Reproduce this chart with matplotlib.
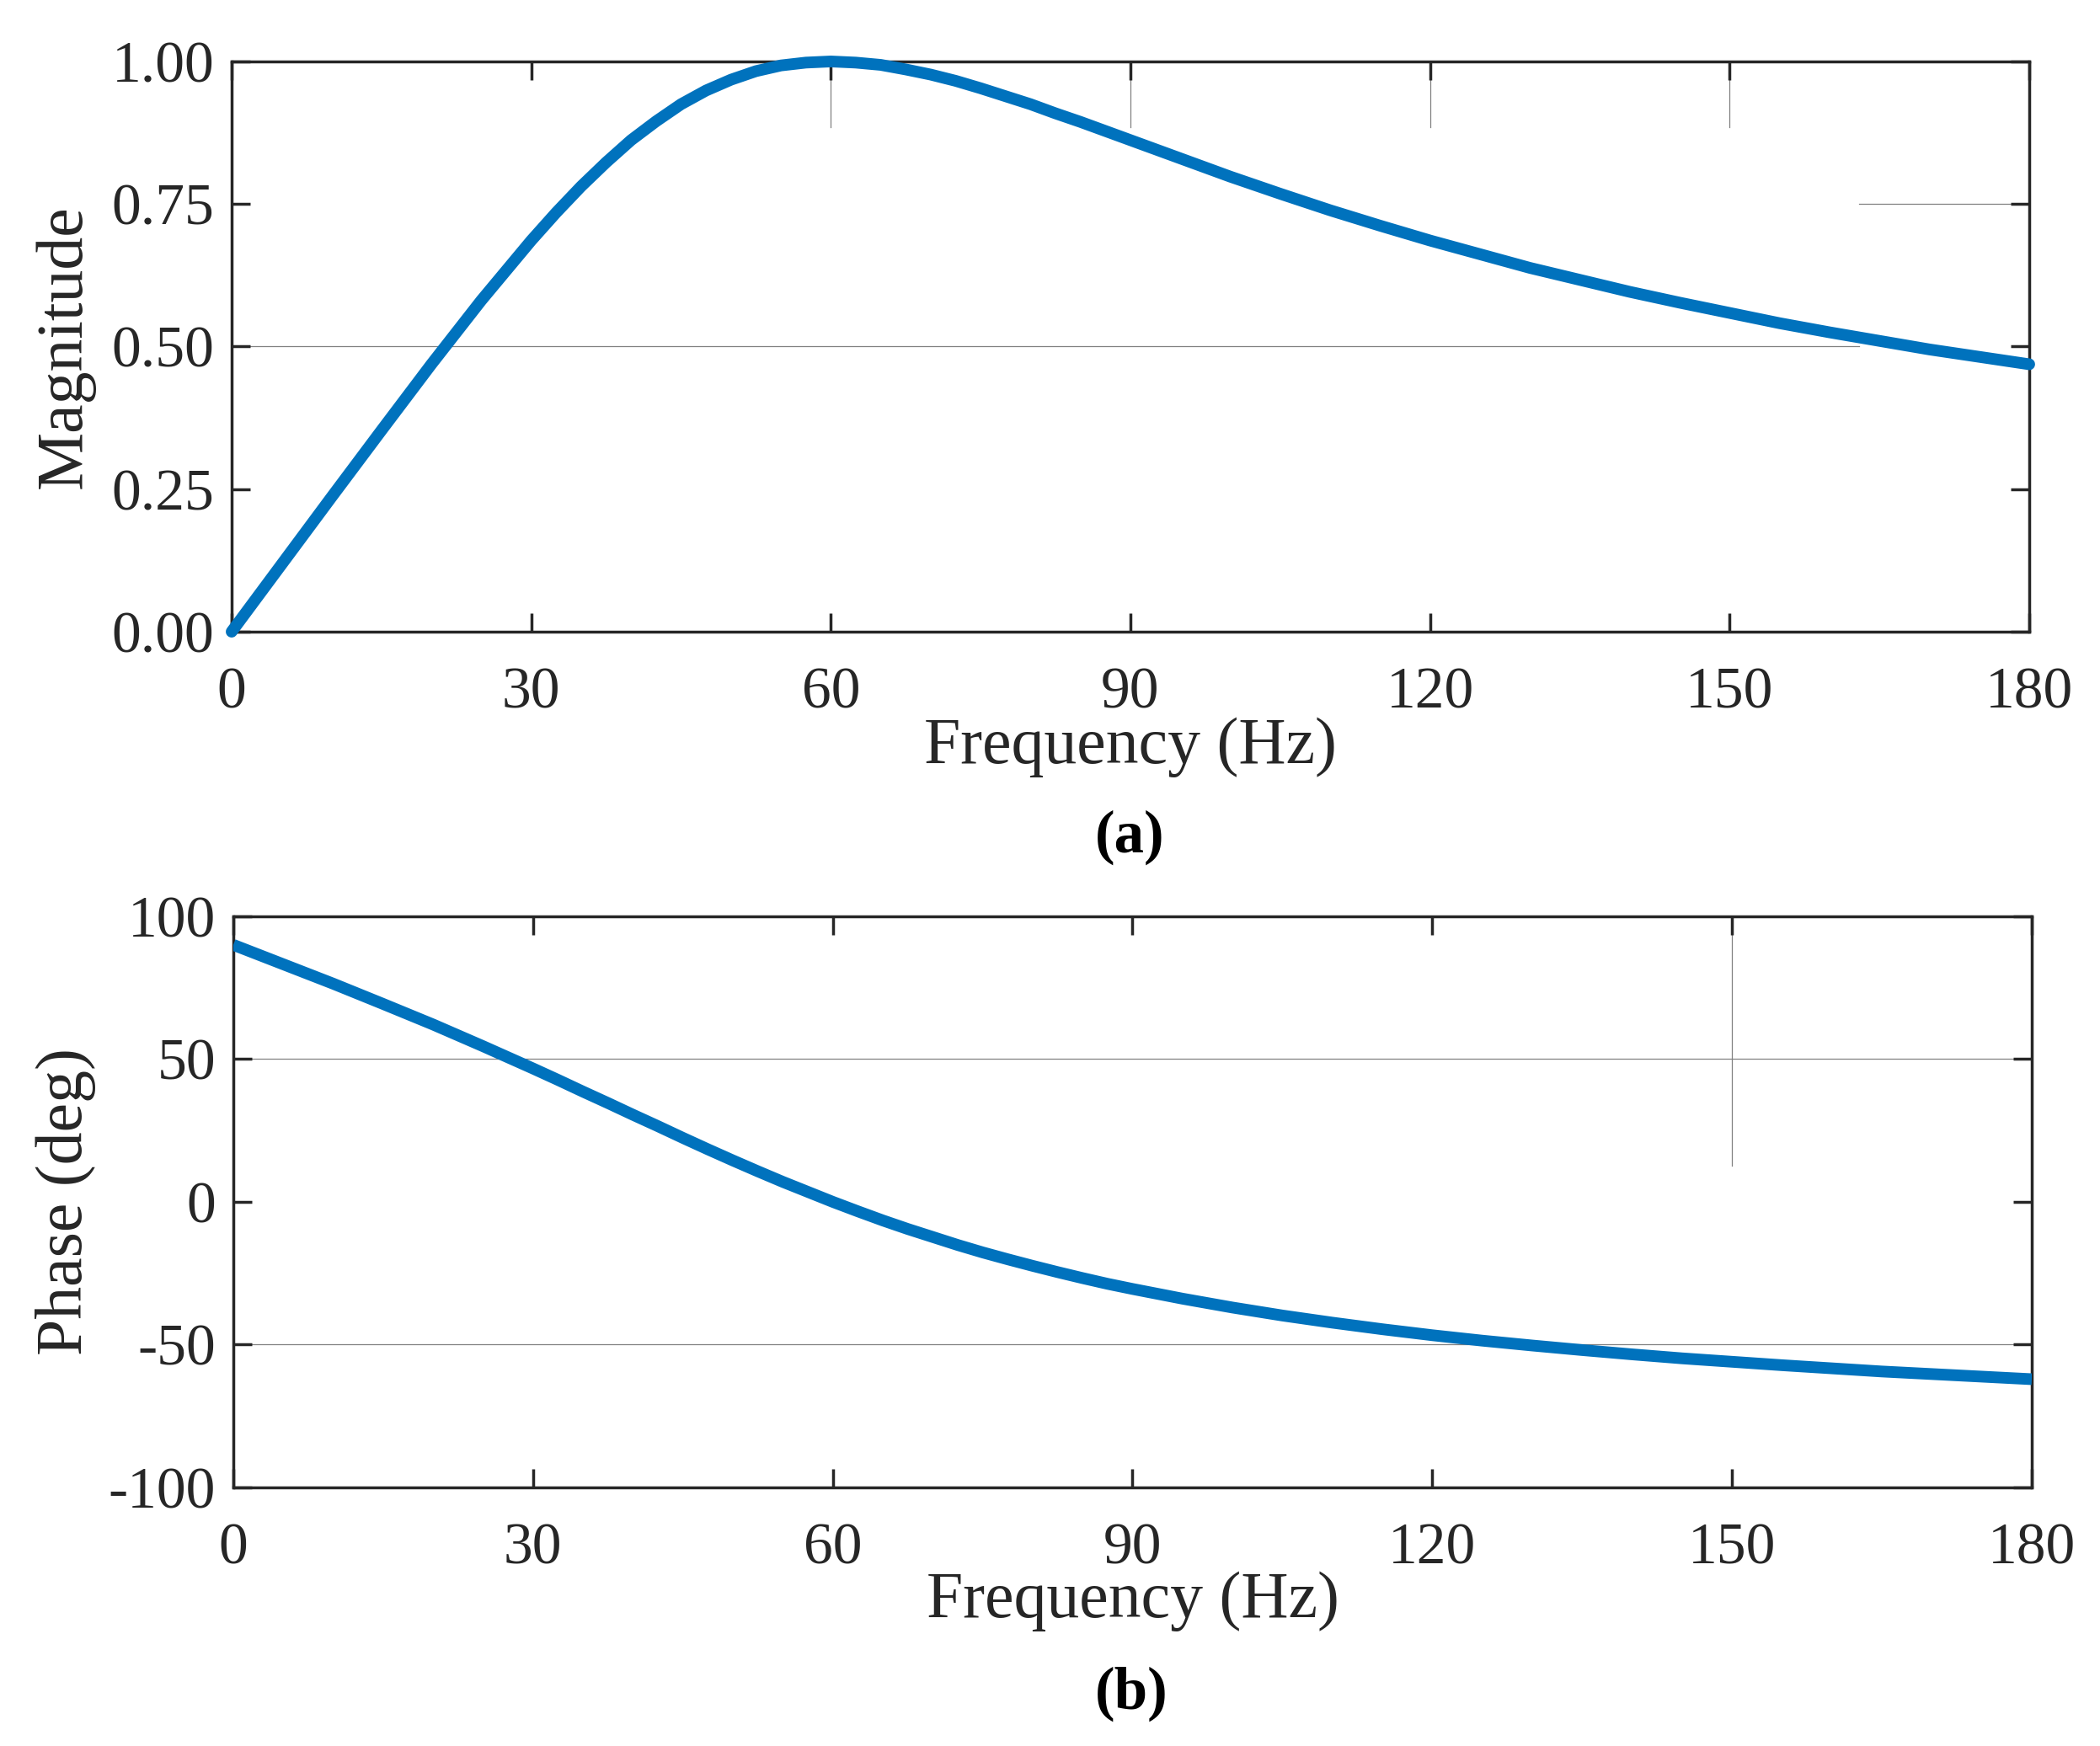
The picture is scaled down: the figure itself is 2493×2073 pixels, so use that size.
import matplotlib
matplotlib.use("Agg")
import matplotlib.pyplot as plt
from matplotlib.ticker import FormatStrFormatter

plt.rcParams['font.family'] = ['Liberation Serif', 'DejaVu Serif']
plt.rcParams['axes.unicode_minus'] = False

# values (5 Hz steps, 2.5 Hz around the peak)
freq = [0, 5, 10, 15, 20, 25, 30, 32.5, 35, 37.5, 40, 42.5, 45, 47.5, 50, 52.5, 55,
        57.5, 60, 62.5, 65, 67.5, 70, 72.5, 75, 77.5, 80, 82.5, 85, 87.5, 90,
        95, 100, 105, 110, 115, 120, 125, 130, 135, 140, 145, 150, 155, 160, 165,
        170, 175, 180]
magnitude = [0.000, 0.118, 0.236, 0.353, 0.469, 0.581, 0.686, 0.735, 0.781, 0.823,
             0.862, 0.895, 0.925, 0.949, 0.968, 0.983, 0.993, 0.998, 1.000, 0.998,
             0.994, 0.986, 0.977, 0.966, 0.953, 0.939, 0.925, 0.909, 0.894, 0.878,
             0.862, 0.830, 0.798, 0.768, 0.739, 0.712, 0.686, 0.662, 0.638, 0.617,
             0.596, 0.577, 0.559, 0.541, 0.525, 0.510, 0.495, 0.482, 0.469]
phase = [90.0, 83.2, 76.4, 69.3, 62.1, 54.5, 46.7, 42.7, 38.6, 34.6, 30.5, 26.5,
         22.4, 18.4, 14.5, 10.7, 7.0, 3.5, 0.0, -3.3, -6.5, -9.5, -12.3, -15.1,
         -17.7, -20.1, -22.4, -24.6, -26.7, -28.7, -30.5, -33.9, -37.0, -39.8,
         -42.3, -44.6, -46.7, -48.6, -50.3, -51.9, -53.4, -54.8, -56.0, -57.2,
         -58.3, -59.4, -60.3, -61.2, -62.1]

xticks = [0, 30, 60, 90, 120, 150, 180]
mag_ticks = [0.0, 0.25, 0.5, 0.75, 1.0]
phase_ticks = [-100, -50, 0, 50, 100]

# broken grid pieces visible in the original export
mag_grid = [([0, 163], [0.5, 0.5]), ([163, 180], [0.75, 0.75]),
            ([60, 60], [1.0, 0.885]), ([90, 90], [1.0, 0.885]),
            ([120, 120], [1.0, 0.885]), ([150, 150], [1.0, 0.885])]
phase_grid = [([0, 180], [50, 50]), ([0, 180], [-50, -50]), ([150, 150], [94, 12.7])]

blue = '#0072BD'
dark = '#262626'

fig = plt.figure(figsize=(24.93, 20.73), dpi=100)
ax1 = fig.add_axes([0.1103, 0.6382, 0.856, 0.3266])
ax2 = fig.add_axes([0.1111, 0.1481, 0.8564, 0.3271])


def style(ax, yticks, ylabel, xlab_y):
    ax.set_xlim(0, 180)
    ax.set_xticks(xticks)
    ax.set_yticks(yticks)
    ax.set_ylim(yticks[0], yticks[-1])
    ax.tick_params(direction='in', length=16, width=2.5, labelsize=50,
                   top=True, right=True, color=dark, labelcolor=dark)
    ax.tick_params(axis='x', pad=30)
    ax.tick_params(axis='y', pad=15)
    for s in ax.spines.values():
        s.set_linewidth(2.5)
        s.set_color(dark)
    ax.set_xlabel('Frequency (Hz)', fontsize=56, color=dark)
    ax.xaxis.label.set_va('center')
    ax.xaxis.set_label_coords(0.5, xlab_y)
    ax.set_ylabel(ylabel, fontsize=56, color=dark)
    ax.yaxis.label.set_va('center')
    ax.yaxis.set_label_coords(-0.093, 0.5)


for xs, ys in mag_grid:
    ax1.plot(xs, ys, color='#808080', lw=0.9, zorder=1)
for xs, ys in phase_grid:
    ax2.plot(xs, ys, color='#808080', lw=0.9, zorder=1)

ax1.plot(freq, magnitude, color=blue, lw=10, solid_capstyle='round',
         solid_joinstyle='round', zorder=3, clip_on=False)
ax2.plot(freq, phase, color=blue, lw=10, solid_capstyle='butt',
         solid_joinstyle='round', zorder=3)

style(ax1, mag_ticks, 'Magnitude', -0.203)
ax1.yaxis.set_major_formatter(FormatStrFormatter('%.2f'))
style(ax2, phase_ticks, 'Phase (deg)', -0.200)

fig.text(0.538, 0.5205, '(a)', fontsize=51, fontweight='bold', ha='center', va='center', color='black')
fig.text(0.539, 0.030, '(b)', fontsize=51, fontweight='bold', ha='center', va='center', color='black')

fig.savefig('out.png', dpi=100)
